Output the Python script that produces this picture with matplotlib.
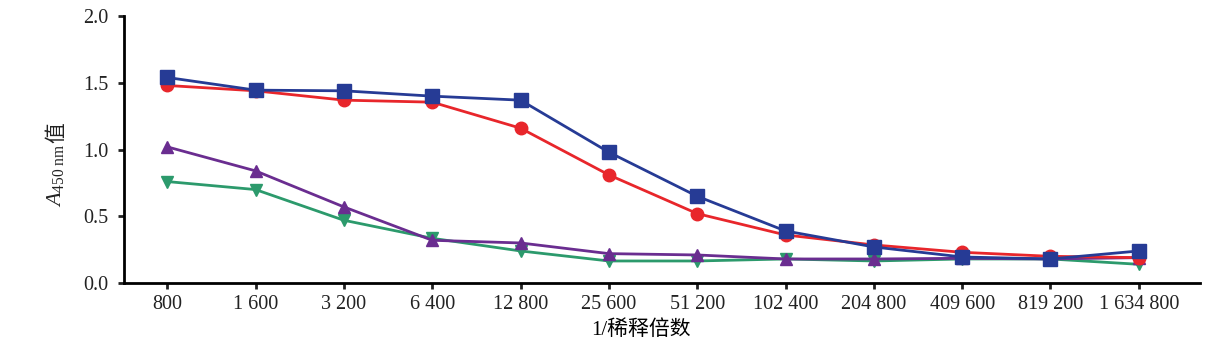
import matplotlib
matplotlib.use("Agg")
import matplotlib.pyplot as plt
import numpy as np

plt.rcParams['font.family'] = ['Liberation Serif', 'Noto Sans CJK SC']
plt.rcParams['mathtext.fontset'] = 'custom'
plt.rcParams['mathtext.rm'] = 'Liberation Serif'
plt.rcParams['mathtext.it'] = 'Liberation Serif:italic'

dilutions = ["800", "1 600", "3 200", "6 400", "12 800", "25 600", "51 200",
             "102 400", "204 800", "409 600", "819 200", "1 634 800"]

blue = [1.54, 1.445, 1.44, 1.40, 1.37, 0.98, 0.65, 0.39, 0.27, 0.195, 0.18, 0.24]
red = [1.48, 1.44, 1.37, 1.355, 1.16, 0.81, 0.52, 0.36, 0.285, 0.23, 0.20, 0.19]
purple = [1.02, 0.84, 0.57, 0.32, 0.30, 0.22, 0.21, 0.18, 0.18, 0.185, 0.18, 0.19]
green = [0.76, 0.70, 0.47, 0.335, 0.24, 0.165, 0.165, 0.18, 0.165, 0.18, 0.18, 0.14]

x = np.arange(len(dilutions))

fig = plt.figure(figsize=(12.06, 3.48), dpi=100)
ax = fig.add_axes([0.1028, 0.1868, 0.892, 0.767])

ax.plot(x, green, color="#2c9a6c", lw=2, marker="v", ms=9, zorder=2)
ax.plot(x, purple, color="#6a2d90", lw=2, marker="^", ms=9, zorder=3)
ax.plot(x, red, color="#e8262b", lw=2, marker="o", ms=9, zorder=4)
ax.plot(x, blue, color="#263b95", lw=2, marker="s", ms=9.5, zorder=5)

ax.set_xlim(-0.49, 11.69)
ax.set_ylim(0, 2.0)
ax.set_yticks([0, 0.5, 1.0, 1.5, 2.0])
ax.set_yticklabels(["0.0", "0.5", "1.0", "1.5", "2.0"])
ax.set_xticks(x)
ax.set_xticklabels(dilutions)

for s in ["top", "right"]:
    ax.spines[s].set_visible(False)
for s in ["left", "bottom"]:
    ax.spines[s].set_linewidth(2.0)
ax.tick_params(width=2.0, length=4.5, labelsize=14.5, colors="#222222")
ax.tick_params(axis="x", pad=4)
ax.tick_params(axis="y", pad=7)

ax.set_xlabel("1/稀释倍数", fontsize=15, labelpad=4)
ax.xaxis.set_label_coords(0.481, -0.138)

# y label: italic A with upright subscript, then the CJK character stacked above
lab = fig.text(56 / 1206, 1 - 207 / 348, r"$\mathit{A}_{\mathrm{450\ nm}}$",
               rotation=90, ha="center", va="bottom", fontsize=16, color="#222222")
ax.annotate("值", xy=(0.5, 1.0), xycoords=lab, xytext=(1.5, 0.5),
            textcoords="offset points", rotation=90,
            ha="center", va="bottom", fontsize=15, color="#222222")

fig.savefig("out.png", dpi=100)
